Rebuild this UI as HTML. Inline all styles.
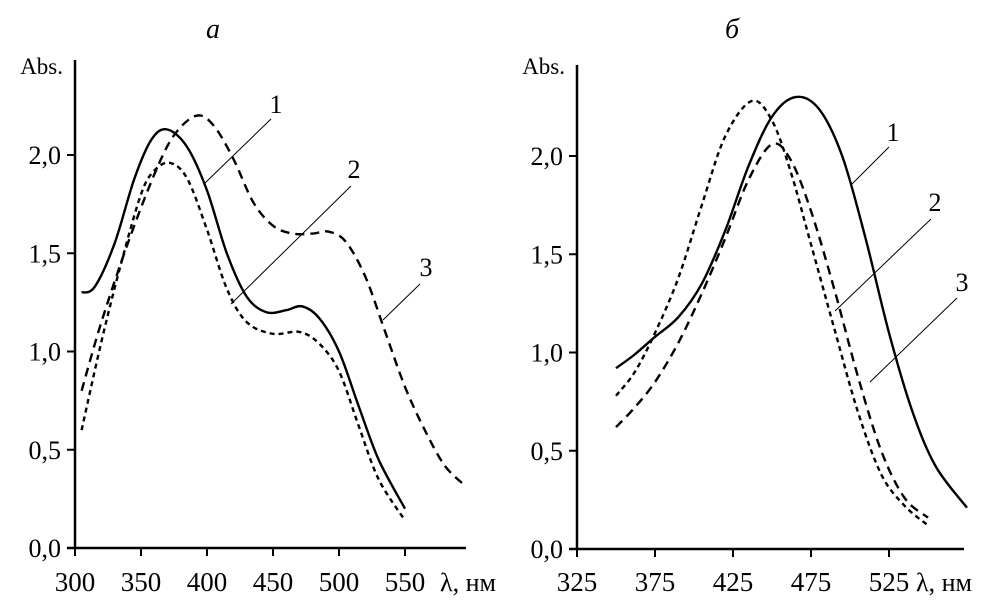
<!DOCTYPE html>
<html><head><meta charset="utf-8"><style>
html,body{margin:0;padding:0;background:#fff;}
svg{display:block;}
text{font-family:"Liberation Serif","Times New Roman",serif;}
</style></head><body>
<svg id="c" width="1003" height="616" viewBox="0 0 1003 616">
<g id="L"></g>
<g id="R"></g>
</svg>
<script>
// Panel a data
const aWl1=[305,315,330,345,358,370,385,400,415,430,445,460,472,485,500,515,530,550];
const aAbs1=[1.30,1.33,1.55,1.88,2.08,2.13,2.04,1.82,1.50,1.28,1.20,1.21,1.23,1.17,1.00,0.72,0.45,0.20];
const aWl2=[305,320,335,350,360,372,385,400,415,430,450,470,485,500,515,530,550];
const aAbs2=[0.60,1.05,1.45,1.80,1.92,1.96,1.88,1.62,1.32,1.15,1.09,1.10,1.04,0.90,0.62,0.35,0.14];
const aWl3=[305,320,340,360,375,392,405,420,435,450,465,480,492,505,520,535,550,565,580,595];
const aAbs3=[0.80,1.15,1.55,1.90,2.10,2.20,2.15,1.98,1.76,1.64,1.60,1.60,1.61,1.56,1.38,1.10,0.82,0.60,0.42,0.32];
const aXTicks=[300,350,400,450,500,550];
// Panel b data
const bWl1=[350,362,375,390,405,420,435,450,465,480,495,510,525,540,555,575];
const bAbs1=[0.92,0.99,1.08,1.18,1.35,1.62,1.95,2.20,2.30,2.24,2.00,1.58,1.10,0.70,0.42,0.21];
const bWl2=[350,362,375,390,405,420,437,450,462,475,490,505,520,535,550];
const bAbs2=[0.78,0.90,1.10,1.38,1.75,2.10,2.28,2.18,1.92,1.55,1.12,0.70,0.38,0.22,0.12];
const bWl3=[350,362,375,390,405,420,435,450,462,475,490,505,520,535,550];
const bAbs3=[0.62,0.72,0.85,1.05,1.30,1.58,1.88,2.06,1.98,1.72,1.32,0.88,0.50,0.26,0.16];
const bXTicks=[325,375,425,475,525];
const yTicks=[0,0.5,1.0,1.5,2.0];
const yTickLabels=["0,0","0,5","1,0","1,5","2,0"];

const NS="http://www.w3.org/2000/svg";
const FF='"Liberation Serif", serif';
function mk(p,t,a){const e=document.createElementNS(NS,t);for(const k in a)e.setAttribute(k,a[k]);if(t==="text")e.setAttribute("font-family",FF);p.appendChild(e);return e;}
function smooth(pts){let d="M"+pts[0][0]+","+pts[0][1];for(let i=0;i<pts.length-1;i++){const p0=pts[i-1]||pts[i],p1=pts[i],p2=pts[i+1],p3=pts[i+2]||p2;
const c1=[p1[0]+(p2[0]-p0[0])/6,p1[1]+(p2[1]-p0[1])/6],c2=[p2[0]-(p3[0]-p1[0])/6,p2[1]-(p3[1]-p1[1])/6];
d+=" C"+c1[0].toFixed(1)+","+c1[1].toFixed(1)+" "+c2[0].toFixed(1)+","+c2[1].toFixed(1)+" "+p2[0].toFixed(1)+","+p2[1].toFixed(1);}return d;}

function panel(g,o){
  const xs=w=>o.x0+(w-o.w0)*o.px50/50, ys=v=>o.y0-v*o.py1;
  let e;
  e=mk(g,"line",{x1:o.x0,y1:o.top,x2:o.x0,y2:o.y0,stroke:"#000","stroke-width":2.5});
  
  
  e=mk(g,"line",{x1:o.x0-8,y1:o.y0,x2:o.xend,y2:o.y0,stroke:"#000","stroke-width":2.5});
  
  
  yTicks.forEach((v,i)=>{
    mk(g,"line",{x1:o.x0-8,y1:ys(v),x2:o.x0,y2:ys(v),stroke:"#000","stroke-width":2});
    const t=mk(g,"text",{x:o.x0-14,y:ys(v)+9,"text-anchor":"end","font-size":26});t.textContent=yTickLabels[i];
    
    
  });
  o.ticks.forEach(w=>{
    mk(g,"line",{x1:xs(w),y1:o.y0,x2:xs(w),y2:o.y0+8,stroke:"#000","stroke-width":2});
    const t=mk(g,"text",{x:xs(w),y:591,"text-anchor":"middle","font-size":27});t.textContent=w;
    
    
  });
  let t=mk(g,"text",{x:o.lamX,y:591,"font-size":26});t.textContent="λ, нм";
  
  
  t=mk(g,"text",{x:o.x0-12,y:74,"text-anchor":"end","font-size":23});t.textContent="Abs.";
  
  
  t=mk(g,"text",{x:o.titleX,y:38,"text-anchor":"middle","font-size":28,"font-style":"italic"});t.textContent=o.title;
  
  
  const dashes=["none","5,4","9,6"];
  o.series.forEach((s,i)=>{
    const pts=s[0].map((w,j)=>[xs(w),ys(s[1][j])]);
    const p=mk(g,"path",{d:smooth(pts),fill:"none",stroke:"#000","stroke-width":2.4,"stroke-dasharray":dashes[i]});
    
    
  });
  o.leaders.forEach((l,i)=>{
    mk(g,"line",{x1:l[2],y1:l[3],x2:l[4],y2:l[5],stroke:"#000","stroke-width":1});
    const tt=mk(g,"text",{x:l[0],y:l[1],"text-anchor":"middle","font-size":26});tt.textContent=String(i+1);
    
    
  });
}
panel(document.getElementById("L"),{x0:75,y0:548,top:60,xend:466,w0:300,px50:66,py1:196.5,ticks:aXTicks,lamX:440,titleX:213,title:"а",
  series:[[aWl1,aAbs1],[aWl2,aAbs2],[aWl3,aAbs3]],
  leaders:[[276,113,271,119,205,183],[354,178,351,186,231,304],[426,276,420,284,383,320]]});
panel(document.getElementById("R"),{x0:577,y0:549,top:65,xend:964,w0:325,px50:78,py1:196.5,ticks:bXTicks,lamX:916,titleX:732,title:"б",
  series:[[bWl1,bAbs1],[bWl2,bAbs2],[bWl3,bAbs3]],
  leaders:[[893,141,889,147,852,184],[935,211,931,219,835,311],[962,291,957,298,870,382]]});
</script>
</body></html>
